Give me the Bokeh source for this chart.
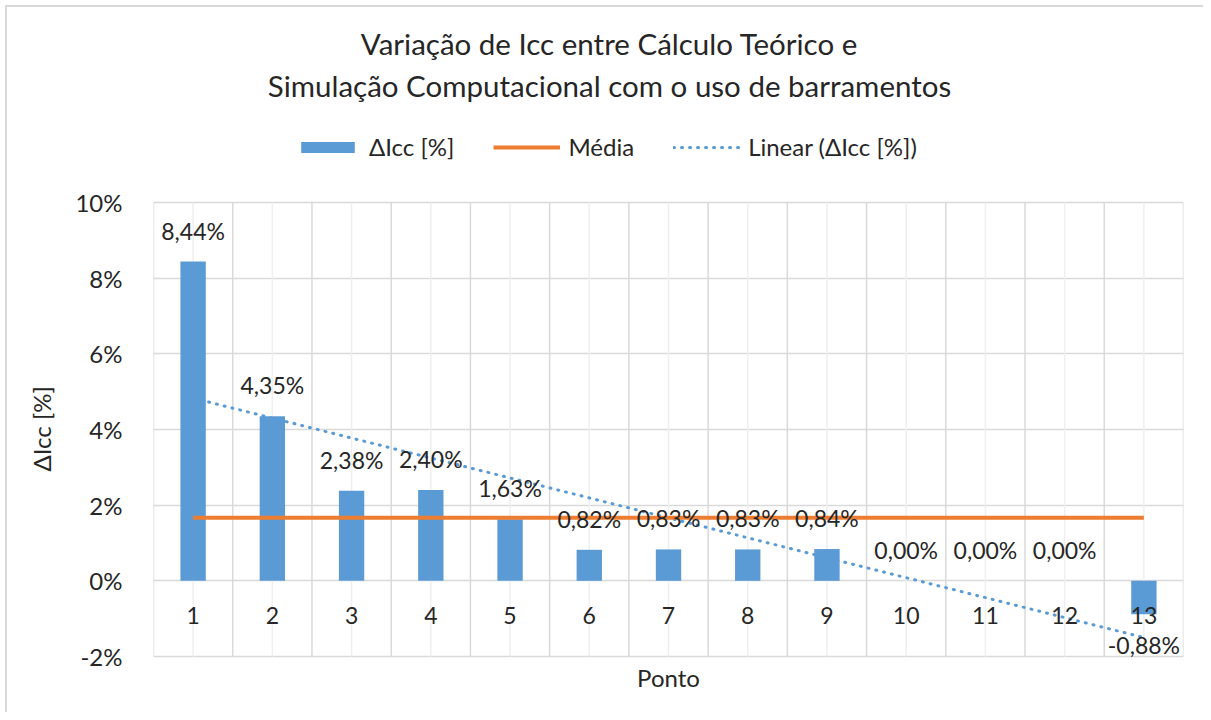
import numpy as np
from bokeh.plotting import figure
from bokeh.models import (Range1d, FixedTicker, PrintfTickFormatter, Label, Legend,
                          LegendItem, ColumnDataSource, Title)
from bokeh.core.properties import value
from bokeh.embed import file_html
from bokeh.resources import INLINE

# ---- data ----
pontos = [1, 2, 3, 4, 5, 6, 7, 8, 9, 10, 11, 12, 13]
delta_icc = [8.44, 4.35, 2.38, 2.40, 1.63, 0.82, 0.83, 0.83, 0.84, 0.00, 0.00, 0.00, -0.88]
y_ticks = [-2, 0, 2, 4, 6, 8, 10]

title_lines = ["Variação de Icc entre Cálculo Teórico e",
               "Simulação Computacional com o uso de barramentos"]

FONT = "Lato"
BLUE = "#5B9BD5"
ORANGE = "#ED7D31"
GRID = "#d9d9d9"
TXT = "#262626"

media = float(np.mean(delta_icc))
coef = np.polyfit(pontos, delta_icc, 1)
trend = list(np.polyval(coef, pontos))
labels = [f"{v:.2f}%".replace(".", ",") for v in delta_icc]
offsets = [-31 if v >= 0 else 31 for v in delta_icc]

src = ColumnDataSource(dict(x=pontos, y=delta_icc, lab=labels, off=offsets,
                            media=[media] * len(pontos), trend=trend,
                            zero=[0] * len(pontos), xl=[str(v) for v in pontos]))

# layout geometry (pixels)
FRAME_H = 705
PX_PER = 454 / 12.0
y_top = 10 + 195 / PX_PER
y_bot = -2 - 56 / PX_PER

p = figure(frame_width=1030, frame_height=FRAME_H, min_border_left=146, min_border_right=20,
           min_border_top=0, min_border_bottom=0, x_range=Range1d(0.5, 13.5),
           y_range=Range1d(y_bot, y_top), output_backend="svg", toolbar_location=None,
           background_fill_color="white", border_fill_color="white")
p.margin = (5, 0, 0, 5)
p.styles = {"border-top": "2px solid #d9d9d9", "border-left": "2px solid #d9d9d9"}

p.outline_line_color = None
p.xaxis.visible = False
p.xgrid.visible = False
p.ygrid.ticker = FixedTicker(ticks=y_ticks)
p.ygrid.grid_line_color = GRID
p.ygrid.grid_line_width = 1.5

# vertical grid lines restricted to the plot area (-2 .. 10)
bounds = [v - 0.5 for v in pontos] + [pontos[-1] + 0.5]
p.segment(x0=pontos, x1=pontos, y0=[y_ticks[0]] * len(pontos), y1=[y_ticks[-1]] * len(pontos),
          line_color="#efefef", line_width=1.5)
p.segment(x0=bounds, x1=bounds, y0=[y_ticks[0]] * len(bounds), y1=[y_ticks[-1]] * len(bounds),
          line_color=GRID, line_width=1.5)

p.yaxis.ticker = FixedTicker(ticks=y_ticks)
p.yaxis.formatter = PrintfTickFormatter(format="%d%%")
p.yaxis.axis_line_color = None
p.yaxis.major_tick_line_color = None
p.yaxis.minor_tick_line_color = None
p.yaxis.major_label_standoff = 25
p.yaxis.major_label_text_font = FONT
p.yaxis.major_label_text_font_size = "24px"
p.yaxis.major_label_text_color = TXT

# y axis title, centred on the -2..10 plot area
p.add_layout(Title(text="ΔIcc [%]", align="left", offset=241, standoff=31,
                   vertical_align="middle",
                   text_font=FONT, text_font_size="24px", text_font_style="normal",
                   text_color=TXT), "left")

r_trend = p.line("x", "trend", source=src, line_color=BLUE, line_width=3,
                 line_dash="1 7", line_cap="round")
r_bar = p.vbar(x="x", top="y", width=0.32, source=src, fill_color=BLUE, line_color=None)
r_media = p.line("x", "media", source=src, line_color=ORANGE, line_width=4)

p.text(x="x", y="y", text="lab", y_offset="off", source=src, text_align="center",
       text_baseline="middle", text_font=value(FONT), text_font_size="23px",
       text_color=TXT)
p.text(x="x", y="zero", text="xl", y_offset=35, source=src, text_align="center",
       text_baseline="middle", text_font=value(FONT), text_font_size="23px",
       text_color=TXT)

# chart titles (centred on the whole chart, not on the plot area)
p.add_layout(Label(x=7, y=10, x_offset=-59, y_offset=159, text=title_lines[0],
                   text_align="center", text_baseline="middle", text_font=FONT,
                   text_font_size="29.5px", text_color=TXT))
p.add_layout(Label(x=7, y=10, x_offset=-59, y_offset=117, text=title_lines[1],
                   text_align="center", text_baseline="middle", text_font=FONT,
                   text_font_size="29.5px", text_color=TXT))
# x axis title
p.add_layout(Label(x=7, y=-2, y_offset=-21, text="Ponto", text_align="center",
                   text_baseline="middle", text_font=FONT, text_font_size="24px",
                   text_color=TXT))

legend = Legend(items=[LegendItem(label="ΔIcc [%]", renderers=[r_bar]),
                       LegendItem(label="Média", renderers=[r_media]),
                       LegendItem(label="Linear (ΔIcc [%])", renderers=[r_trend])],
                location=(141, 551), orientation="horizontal", glyph_width=67,
                glyph_height=14, label_standoff=8, spacing=39, padding=0, margin=0,
                border_line_color=None, background_fill_alpha=0,
                label_text_font=FONT, label_text_font_size="24px",
                label_text_color=TXT)
p.add_layout(legend, "center")

open("out.html", "w").write(file_html(p, INLINE))
